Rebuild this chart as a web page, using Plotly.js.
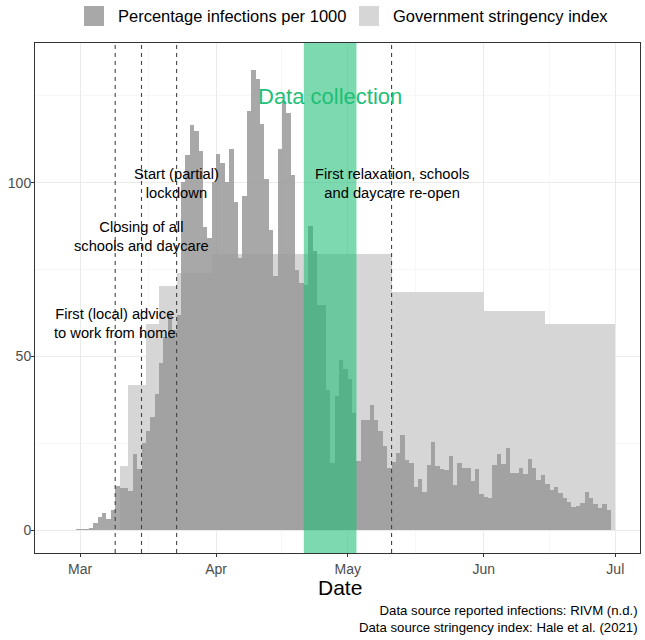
<!DOCTYPE html>
<html>
<head>
<meta charset="utf-8">
<script src="https://cdn.plot.ly/plotly-3.0.1.min.js"></script>
<style>body{margin:0;background:#fff}</style>
</head>
<body>
<div id="plot" style="width:645px;height:640px;"></div>
<script>
// daily reported infections, first day 2020-02-27
var infStart = "2020-02-27";
var infections = [
  0.1, 0.1, 0.2,
  // March
  0.3, 0.4, 0.7, 1.9, 3.8, 4.8, 3.1, 5.8, 12.7, 12.2, 12.0, 11.2, 21.8, 17.5, 25.0, 28.4,
  32.6, 39.3, 48.0, 55.7, 62.4, 57.6, 62.0, 100.3, 108.0, 116.6, 115.0, 109.2, 87.3, 84.0, 100.3,
  // April
  108.3, 105.6, 100.3, 109.8, 94.5, 78.2, 96.2, 120.6, 132.6, 130.0, 117.0, 101.0, 86.4, 73.0, 109.8,
  123.5, 120.0, 102.2, 74.9, 71.0, 70.5, 87.5, 80.4, 64.8, 64.8, 40.3, 19.2, 38.5, 49.0, 46.5,
  // May
  43.5, 33.6, 19.9, 31.7, 31.7, 36.0, 31.7, 28.5, 24.2, 17.8, 19.5, 22.2, 27.3, 20.2, 19.3, 12.5,
  14.7, 11.0, 18.6, 25.3, 18.3, 17.6, 17.3, 21.3, 12.9, 19.4, 17.8, 17.8, 14.1, 17.5, 10.5,
  // June
  9.6, 9.2, 18.6, 21.8, 18.9, 23.7, 16.5, 16.4, 17.9, 16.0, 20.5, 17.9, 14.3, 15.7, 13.2,
  11.4, 12.4, 10.7, 9.3, 8.2, 6.7, 6.9, 7.9, 10.9, 9.3, 7.6, 6.4, 7.6, 5.7
];

// government stringency index, first day 2020-03-10
var strStart = "2020-03-10";
var stringency = [
  // March
  18.5, 18.5, 41.7, 41.7, 41.7, 41.7, 59.3, 59.3, 59.3, 70.4, 70.4, 70.4, 70.4,
  74.1, 74.1, 74.1, 74.1, 74.1, 74.1, 74.1, 74.1, 79.6,
  // April
  79.6, 79.6, 79.6, 79.6, 79.6, 79.6, 79.6, 79.6, 79.6, 79.6, 79.6, 79.6, 79.6, 79.6, 79.6,
  79.6, 79.6, 79.6, 79.6, 79.6, 79.6, 79.6, 79.6, 79.6, 79.6, 79.6, 79.6, 79.6, 79.6, 79.6,
  // May
  79.6, 79.6, 79.6, 79.6, 79.6, 79.6, 79.6, 79.6, 79.6, 79.6,
  68.5, 68.5, 68.5, 68.5, 68.5, 68.5, 68.5, 68.5, 68.5, 68.5, 68.5,
  68.5, 68.5, 68.5, 68.5, 68.5, 68.5, 68.5, 68.5, 68.5, 68.5,
  // June
  63.0, 63.0, 63.0, 63.0, 63.0, 63.0, 63.0, 63.0, 63.0, 63.0, 63.0, 63.0, 63.0, 63.0,
  59.3, 59.3, 59.3, 59.3, 59.3, 59.3, 59.3, 59.3, 59.3, 59.3, 59.3, 59.3, 59.3, 59.3, 59.3, 59.3
];

var monthTicks = ["2020-03-01", "2020-04-01", "2020-05-01", "2020-06-01", "2020-07-01"];
var monthLabels = ["Mar", "Apr", "May", "Jun", "Jul"];

var events = [
  {date: "2020-03-09", label: "First (local) advice<br>to work from home", y: 59.5},
  {date: "2020-03-15", label: "Closing of all<br>schools and daycare", y: 84.6},
  {date: "2020-03-23", label: "Start (partial)<br>lockdown", y: 99.8},
  {date: "2020-05-11", label: "First relaxation, schools<br>and daycare re-open", y: 99.8}
];
var collection = {from: "2020-04-21", to: "2020-05-03", label: "Data collection", mid: "2020-04-27", y: 124.8};

var DAY = 86400000;
function days(start, n) {
  var p = start.split("-");
  var t0 = Date.UTC(+p[0], +p[1] - 1, +p[2]);
  var out = [];
  for (var i = 0; i < n; i++) {
    out.push(new Date(t0 + i * DAY).toISOString().slice(0, 10) + " 12:00");
  }
  return out;
}

var infColor = "rgba(153,153,153,0.85)";
var strColor = "#d6d6d6";
var green = "#1fbf77";

var trace1 = {
  x: days(strStart, stringency.length),
  y: stringency,
  type: "bar",
  width: DAY,
  marker: {color: strColor, line: {width: 0}},
  name: "Government stringency index",
  showlegend: false
};

var trace2 = {
  x: days(infStart, infections.length),
  y: infections,
  type: "bar",
  width: DAY,
  marker: {color: infColor, line: {width: 0}},
  name: "Percentage infections per 1000",
  showlegend: false
};

// pixel helpers for the paper area (plot area 35..640 x 43..553)
var TOP = 43, BOTTOM = 553;
function px(x) { return (x - 35) / 605; }
function py(y) { return (BOTTOM - y) / (BOTTOM - TOP); }

var shapes = [
  {type: "rect", xref: "x", yref: "paper", x0: collection.from, x1: collection.to, y0: 0, y1: 1,
   fillcolor: "rgba(31,191,119,0.58)", line: {width: 0}, layer: "above"}
];
events.forEach(function (e) {
  shapes.push({type: "line", xref: "x", yref: "paper", x0: e.date, x1: e.date, y0: 0, y1: 1,
    line: {color: "#444", width: 1.1, dash: "4px,4px"}, layer: "above"});
});
// legend keys
shapes.push({type: "rect", xref: "paper", yref: "paper", x0: px(84), x1: px(104), y0: py(26), y1: py(6),
  fillcolor: infColor, line: {width: 0}});
shapes.push({type: "rect", xref: "paper", yref: "paper", x0: px(359), x1: px(379), y0: py(26), y1: py(6),
  fillcolor: strColor, line: {width: 0}});

var annotations = events.map(function (e) {
  return {x: e.date, y: e.y, xref: "x", yref: "y", text: e.label, showarrow: false,
    font: {size: 14.7, color: "#000"}, align: "center"};
});
annotations.push({x: collection.mid, y: collection.y, xref: "x", yref: "y", text: collection.label,
  showarrow: false, font: {size: 22, color: green}});
annotations.push({x: px(116), y: py(16), xref: "paper", yref: "paper", xanchor: "left", yanchor: "middle",
  text: trace2.name, showarrow: false, font: {size: 16.5, color: "#000"}});
annotations.push({x: px(391), y: py(16), xref: "paper", yref: "paper", xanchor: "left", yanchor: "middle",
  text: trace1.name, showarrow: false, font: {size: 16.5, color: "#000"}});
annotations.push({x: px(340), y: py(587), xref: "paper", yref: "paper", xanchor: "center", yanchor: "middle",
  text: "Date", showarrow: false, font: {size: 21, color: "#000"}});
annotations.push({x: 1, y: py(619), xref: "paper", yref: "paper", xanchor: "right", yanchor: "middle",
  align: "right", showarrow: false, font: {size: 13.2, color: "#000"},
  text: "Data source reported infections: RIVM (n.d.)<br>Data source stringency index: Hale et al. (2021)"});

var layout = {
  width: 645,
  height: 640,
  margin: {l: 35, r: 5, t: TOP, b: 640 - BOTTOM},
  paper_bgcolor: "#fff",
  plot_bgcolor: "#fff",
  font: {family: "Liberation Sans, Arial, sans-serif", color: "#4d4d4d"},
  barmode: "overlay",
  bargap: 0,
  showlegend: false,
  xaxis: {
    type: "date",
    range: ["2020-02-19 17:17", "2020-07-06 15:07"],
    tickmode: "array",
    tickvals: monthTicks,
    ticktext: monthLabels,
    tickfont: {size: 14, color: "#4d4d4d"},
    ticks: "outside", ticklen: 3, tickwidth: 1, tickcolor: "#333",
    showgrid: true, gridcolor: "#ebebeb", gridwidth: 1,
    minor: {tickmode: "array", tickvals: ["2020-03-16 12:00", "2020-04-16", "2020-05-16 12:00", "2020-06-16"],
            showgrid: true, gridcolor: "#f2f2f2", gridwidth: 0.6, ticks: ""},
    showline: true, mirror: true, linecolor: "#333", linewidth: 1,
    zeroline: false, fixedrange: true
  },
  yaxis: {
    range: [-6.62, 140.23],
    tickmode: "array",
    tickvals: [0, 50, 100],
    tickfont: {size: 14, color: "#4d4d4d"},
    ticks: "outside", ticklen: 3, tickwidth: 1, tickcolor: "#333",
    ticklabelstandoff: -3,
    showgrid: true, gridcolor: "#ebebeb", gridwidth: 1,
    minor: {tickmode: "array", tickvals: [25, 75, 125], showgrid: true, gridcolor: "#f2f2f2", gridwidth: 0.6, ticks: ""},
    showline: true, mirror: true, linecolor: "#333", linewidth: 1,
    zeroline: false, fixedrange: true
  },
  shapes: shapes,
  annotations: annotations
};

Plotly.newPlot("plot", [trace1, trace2], layout, {displayModeBar: false, staticPlot: true});
</script>
</body>
</html>
